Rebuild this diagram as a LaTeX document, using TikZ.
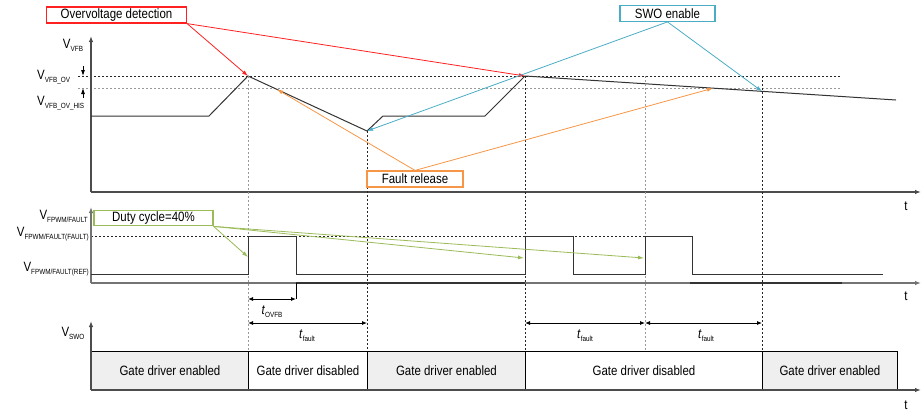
\documentclass[tikz,border=0pt]{standalone}
\usepackage{fontspec}
\setmainfont{Liberation Sans}[FakeStretch=0.85]
\usetikzlibrary{arrows.meta}
\definecolor{cred}{HTML}{FF2020}
\definecolor{ccyan}{HTML}{4BACC6}
\definecolor{corange}{HTML}{F79646}
\definecolor{cgreen}{HTML}{9BBB59}
\definecolor{cfill}{HTML}{EFEFEF}
\newcommand\mysub[1]{\raisebox{-0.4ex}{\fontsize{7.5}{8}\selectfont #1}}
\begin{document}
\begin{tikzpicture}[x=1pt,y=-1pt, font=\fontsize{13.5}{15}\selectfont,
 axis/.style={line width=1.2pt, black!70, -{Latex[length=6pt,width=4.5pt]}},
 wave/.style={line width=1pt, black!80},
 vdash/.style={black!85, dash pattern=on 2pt off 2pt, line width=0.7pt},
 vgdash/.style={black!40, dash pattern=on 2pt off 2pt, line width=0.9pt},
 callout/.style={draw, line width=1.2pt, fill=white, inner sep=0pt, minimum height=16pt},
 arr/.style={line width=0.8pt, -{Latex[length=6pt,width=4pt]}},
 dim/.style={{Latex[length=5pt,width=4pt]}-{Latex[length=5pt,width=4pt]}, line width=0.8pt, black},
 bar/.style={draw=black, line width=0.9pt, minimum height=39pt, inner sep=0pt, anchor=north west},
 lbl/.style={inner sep=0pt}
]
\useasboundingbox (0,0) rectangle (922,416);

% ---------- top panel ----------
\coordinate (o1) at (91,192);
\coordinate (y1) at (91,36);
\coordinate (x1) at (921,192);
\coordinate (w0) at (91,116);
\coordinate (w1) at (209,116);
\coordinate (pk1) at (248,76);
\coordinate (tr) at (367,131);
\coordinate (w4) at (383,116);
\coordinate (w5) at (485,116);
\coordinate (pk2) at (525,76);
\coordinate (w7) at (896,100);
\coordinate (q645) at (645,76);
\coordinate (q762) at (762,91.3);
\coordinate (q762t) at (762,76);
\coordinate (f1) at (277,89.4);
\coordinate (f2) at (713,88.2);
\coordinate (ovl) at (78,76);
\coordinate (ovr) at (841,76);
\coordinate (hsl) at (78,88);
\coordinate (hsr) at (841,88);
\coordinate (ma) at (83,66);
\coordinate (mb) at (83,76);
\coordinate (mc) at (83,98);
\coordinate (md) at (83,88);

\draw[vdash] (ovl) -- (ovr);
\draw[vgdash] (hsl) -- (hsr);
\draw[axis] (o1) -- (y1);
\draw[axis] (o1) -- (x1);
\draw[arr, black] (ma) -- (mb);
\draw[arr, black] (mc) -- (md);
\draw[wave] (w0) -- (w1) -- (pk1) -- (tr) -- (w4) -- (w5) -- (pk2) -- (w7);

% vertical guides
\coordinate (b248) at (248,351);
\coordinate (b367) at (367,351);
\coordinate (b525) at (525,351);
\coordinate (b645) at (645,351);
\coordinate (b762) at (762,351);
\draw[vgdash] (pk1) -- (b248);
\draw[vdash] (tr) -- (b367);
\draw[vdash] (pk2) -- (b525);
\draw[vgdash] (q645) -- (b645);
\draw[vdash] (q762t) -- (b762);

\node[lbl] (t1) at (906,206) {t};
\node[lbl] (lvfb) at (73,45) {V\mysub{VFB}};
\node[lbl, anchor=west] (lvov) at (37,77) {V\mysub{VFB\_OV}};
\node[lbl, anchor=west] (lvhis) at (37,103) {V\mysub{VFB\_OV\_HIS}};

% ---------- middle panel ----------
\coordinate (o2) at (91,283);
\coordinate (y2) at (91,207);
\coordinate (x2) at (921,283);
\coordinate (fl) at (91,236);
\coordinate (fr645) at (645,236);
\draw[vdash] (fl) -- (fr645);
\draw[axis, black!55] (o2) -- (y2);
\draw[axis, black!55] (o2) -- (x2);
\coordinate (s1a) at (296,283);
\coordinate (s1b) at (525,283);
\coordinate (s2a) at (690,283);
\coordinate (s2b) at (842,283);
\draw[line width=2pt, black!80] (s1a) -- (s1b);
\draw[line width=2pt, black!80] (s2a) -- (s2b);
\draw[wave] (91,274) -- (248,274) -- (248,236) -- (296,236) -- (296,274)
  -- (525,274) -- (525,236) -- (573,236) -- (573,274)
  -- (645,274) -- (645,236) -- (692,236) -- (692,274) -- (883,274);
\coordinate (tk) at (296,299);
\draw[line width=1pt, black] (s1a) -- (tk);
\node[lbl] (t2) at (906,296) {t};
\node[lbl, anchor=east] (lfp) at (88,216) {V\mysub{FPWM/FAULT}};
\node[lbl, anchor=east] (lff) at (89,234) {V\mysub{FPWM/FAULT(FAULT)}};
\node[lbl, anchor=east] (lfr) at (89,269) {V\mysub{FPWM/FAULT(REF)}};

% dimensions
\coordinate (d1a) at (248,299);
\draw[dim] (d1a) -- (tk);
\node[lbl] (ltov) at (272,312) {\textit{t}\mysub{OVFB}};
\coordinate (d2a) at (248,323);
\coordinate (d2b) at (367,323);
\coordinate (d3a) at (525,323);
\coordinate (d3b) at (645,323);
\coordinate (d3c) at (762,323);
\draw[dim] (d2a) -- (d2b);
\draw[dim] (d3a) -- (d3b);
\draw[dim] (d3b) -- (d3c);
\node[lbl] (ltf1) at (307,336) {\textit{t}\mysub{fault}};
\node[lbl] (ltf2) at (585,336) {\textit{t}\mysub{fault}};
\node[lbl] (ltf3) at (706,336) {\textit{t}\mysub{fault}};

% ---------- bottom panel ----------
\node[bar, fill=cfill, minimum width=157pt] (g1) at (91,351) {Gate driver enabled};
\node[bar, fill=white, minimum width=119pt] (g2) at (248,351) {Gate driver disabled};
\node[bar, fill=cfill, minimum width=158pt] (g3) at (367,351) {Gate driver enabled};
\node[bar, fill=white, minimum width=237pt] (g4) at (525,351) {Gate driver disabled};
\node[bar, fill=cfill, minimum width=135pt] (g5) at (762,351) {Gate driver enabled};
\coordinate (o3) at (91,390);
\coordinate (y3) at (91,321);
\coordinate (x3) at (921,390);
\draw[axis] (o3) -- (y3);
\draw[axis] (o3) -- (x3);
\node[lbl] (t3) at (906,405) {t};
\node[lbl] (lsno) at (73,333) {V\mysub{SWO}};

% ---------- callouts ----------
\node[callout, draw=cred, minimum width=140pt] (ov) at (116.5,15) {Overvoltage detection};
\draw[arr, cred] (ov.south east) -- (pk1);
\draw[arr, cred] (ov.south east) -- (pk2);

\node[callout, draw=ccyan, minimum width=95pt] (swo) at (667.5,13.3) {SWO enable};
\draw[arr, ccyan] (swo.south) -- (tr);
\draw[arr, ccyan] (swo.south) -- (q762);

\node[callout, draw=corange, minimum width=96pt] (frel) at (415,179) {Fault release};
\draw[arr, corange] (frel.north) -- (f1);
\draw[arr, corange] (frel.north) -- (f2);

\coordinate (g248) at (248,257);
\coordinate (g524) at (524,258);
\coordinate (g644) at (644,258);
\node[callout, draw=cgreen, minimum width=119pt, minimum height=15pt] (dc) at (153.5,218.3) {Duty cycle=40\%};
\draw[arr, cgreen] (dc.south east) -- (g248);
\draw[arr, cgreen] (dc.south east) -- (g524);
\draw[arr, cgreen] (dc.south east) -- (g644);
\end{tikzpicture}
\end{document}
